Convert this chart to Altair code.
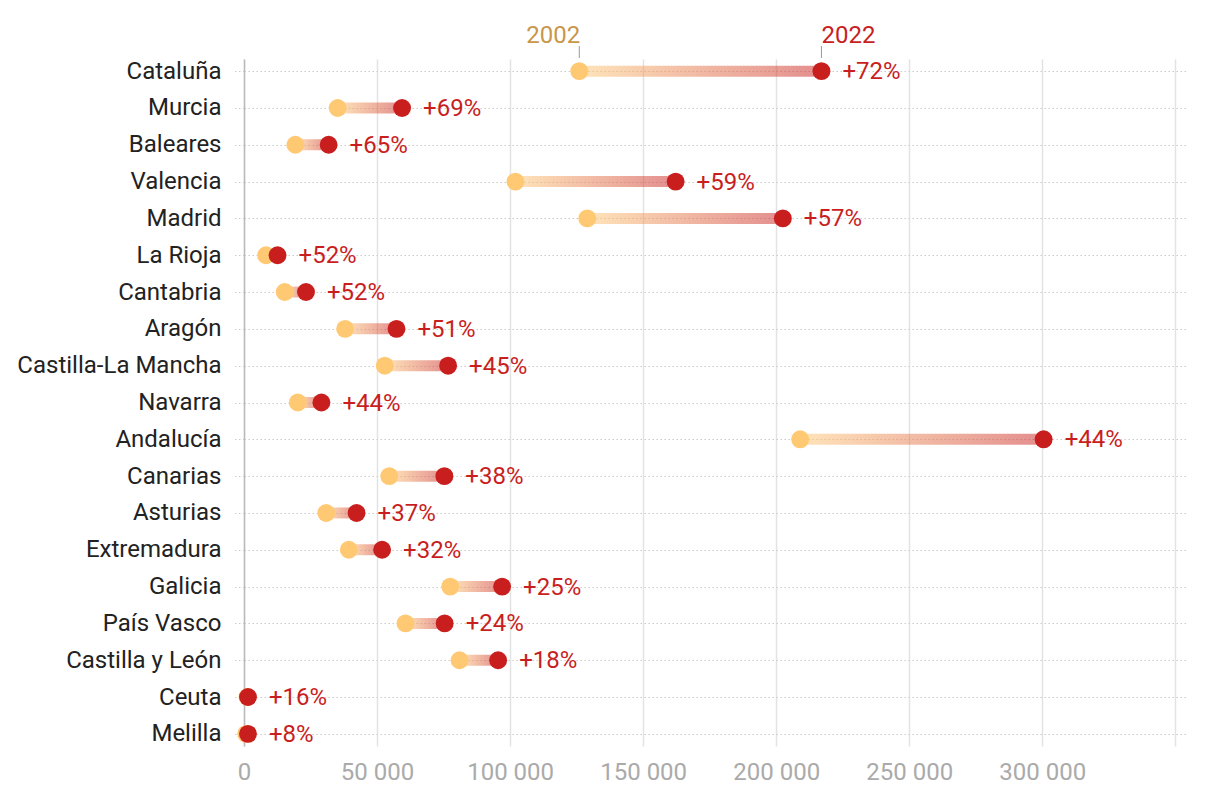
import altair as alt
import pandas as pd

regions = ["Cataluña", "Murcia", "Baleares", "Valencia", "Madrid", "La Rioja",
           "Cantabria", "Aragón", "Castilla-La Mancha", "Navarra", "Andalucía",
           "Canarias", "Asturias", "Extremadura", "Galicia", "País Vasco",
           "Castilla y León", "Ceuta", "Melilla"]
v2002 = [126000, 35200, 19300, 102000, 129000, 8300, 15300, 38000, 52900, 20200,
         209000, 54600, 30900, 39400, 77500, 60700, 81000, 1300, 800]
v2022 = [217000, 59400, 31800, 162200, 202500, 12600, 23300, 57300, 76700, 29100,
         300500, 75300, 42300, 51900, 97000, 75400, 95500, 1500, 1500]
pct = ["+72%", "+69%", "+65%", "+59%", "+57%", "+52%", "+52%", "+51%", "+45%", "+44%",
       "+44%", "+38%", "+37%", "+32%", "+25%", "+24%", "+18%", "+16%", "+8%"]

df = pd.DataFrame({"region": regions, "a": v2002, "b": v2022, "pct": pct})

C02 = "#FFC973"
C22 = "#C81E1E"
FONT = "Roboto"
FS = 24

x_ticks = [0, 50000, 100000, 150000, 200000, 250000, 300000, 350000]

xscale = alt.Scale(domain=[0, 354000], nice=False, zero=False)
yscale = alt.Scale(type="point", domain=regions, padding=0.33)

base = alt.Chart(df)

yenc = alt.Y("region:N", scale=yscale, sort=None,
             axis=alt.Axis(title=None, domain=True, domainColor="#bbbbbb", domainWidth=1.5,
                           grid=True, gridColor="#cccccc", gridDash=[1.5, 2.5], gridWidth=1.2,
                           ticks=True, tickColor="#cccccc", tickDash=[1.5, 2.5], tickWidth=1.2,
                           tickSize=12, labelFontSize=FS, labelColor="#222222", labelFont=FONT,
                           labelPadding=11, labelLimit=400))

bars = base.mark_bar(
    height=11,
    fill=alt.Gradient(gradient="linear", x1=0, y1=0, x2=1, y2=0,
                      stops=[alt.GradientStop(color=C02, offset=0),
                             alt.GradientStop(color=C22, offset=1)]),
    fillOpacity=0.5,
).encode(
    x=alt.X("a:Q", scale=xscale,
            axis=alt.Axis(title=None, values=x_ticks, grid=True, gridColor="#e3e3e3",
                          gridWidth=1.5, domain=False, ticks=False, labelFontSize=FS,
                          labelColor="#aaaaaa", labelFont=FONT, labelPadding=14,
                          labelFlush=False,
                          labelExpr="datum.value == 0 ? '0' : (datum.value > 300000 ? '' : floor(datum.value / 1000) + ' 000')")),
    x2="b:Q",
    y=yenc,
)

dots02 = base.mark_circle(size=320, opacity=1, color=C02).encode(
    x=alt.X("a:Q", scale=xscale), y=alt.Y("region:N", scale=yscale, sort=None))
dots22 = base.mark_circle(size=320, opacity=1, color=C22).encode(
    x=alt.X("b:Q", scale=xscale), y=alt.Y("region:N", scale=yscale, sort=None))

labels = base.mark_text(align="left", baseline="middle", dx=21, dy=1, fontSize=FS,
                        font=FONT, color=C22).encode(
    x=alt.X("b:Q", scale=xscale), y=alt.Y("region:N", scale=yscale, sort=None),
    text="pct:N")

top = base.transform_filter(alt.datum.region == "Cataluña")
h02 = top.mark_text(align="right", baseline="alphabetic", fontSize=FS, font=FONT,
                    color="#C8974A", dx=1).encode(
    x=alt.X("a:Q", scale=xscale), y=alt.value(-16), text=alt.value("2002"))
h22 = top.mark_text(align="left", baseline="alphabetic", fontSize=FS, font=FONT,
                    color=C22, dx=0).encode(
    x=alt.X("b:Q", scale=xscale), y=alt.value(-16), text=alt.value("2022"))
t02 = top.mark_rule(color="#999999", strokeWidth=1).encode(
    x=alt.X("a:Q", scale=xscale), y=alt.value(-13), y2=alt.value(-1))
t22 = top.mark_rule(color="#999999", strokeWidth=1).encode(
    x=alt.X("b:Q", scale=xscale), y=alt.value(-13), y2=alt.value(-1))

chart = alt.layer(bars, dots02, dots22, labels, h02, h22, t02, t22).properties(
    width=942, height=687,
    padding={"left": 8, "top": 16, "right": 5, "bottom": 5},
).configure(font=FONT, background="white").configure_view(stroke=None)

chart.save("out.html", embed_options={"renderer": "svg", "actions": False})
